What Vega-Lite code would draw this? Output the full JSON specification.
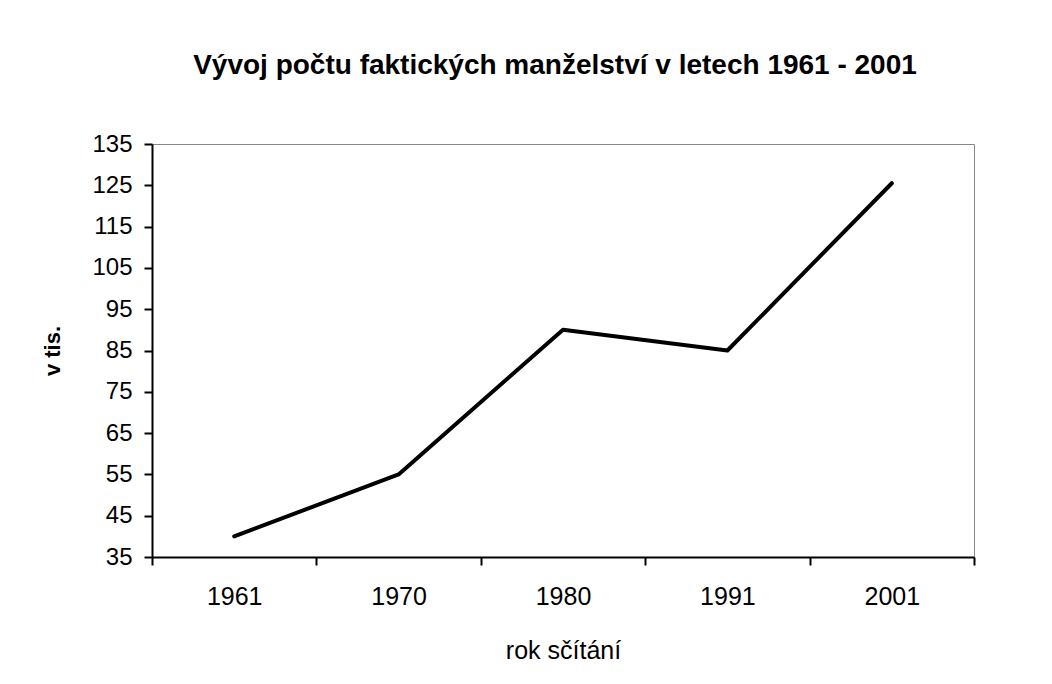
{
  "$schema": "https://vega.github.io/schema/vega-lite/v6.json",
  "autosize": {"type": "none"},
  "width": 822,
  "height": 413,
  "padding": {"left": 152, "top": 144, "right": 78, "bottom": 127},
  "background": "white",
  "title": {
    "text": "Vývoj počtu faktických manželství v letech 1961 - 2001",
    "font": "Liberation Sans",
    "fontSize": 28,
    "fontWeight": "bold",
    "color": "black",
    "anchor": "middle",
    "dx": -8,
    "offset": 52
  },
  "data": {
    "values": [
      {"rok": "1961", "pocet": 40},
      {"rok": "1970", "pocet": 55},
      {"rok": "1980", "pocet": 90},
      {"rok": "1991", "pocet": 85},
      {"rok": "2001", "pocet": 125.5}
    ]
  },
  "mark": {"type": "line", "color": "black", "strokeWidth": 4, "strokeCap": "round", "strokeJoin": "round"},
  "encoding": {
    "x": {
      "field": "rok",
      "type": "ordinal",
      "bandPosition": 0.5,
      "scale": {"type": "band", "paddingInner": 0, "paddingOuter": 0},
      "axis": {
        "title": "rok sčítání",
        "labelAngle": 0,
        "tickBand": "extent",
        "domainColor": "black",
        "domainWidth": 2,
        "tickColor": "black",
        "tickWidth": 2,
        "tickSize": 8,
        "labelPadding": 19,
        "labelFont": "Liberation Sans",
        "labelFontSize": 25,
        "labelColor": "black",
        "titleFont": "Liberation Sans",
        "titleFontSize": 25,
        "titleFontWeight": "normal",
        "titleColor": "black",
        "titlePadding": 29
      }
    },
    "y": {
      "field": "pocet",
      "type": "quantitative",
      "scale": {"domain": [35, 135], "nice": false, "zero": false},
      "axis": {
        "title": "v tis.",
        "values": [35, 45, 55, 65, 75, 85, 95, 105, 115, 125, 135],
        "grid": false,
        "domainColor": "black",
        "domainWidth": 2,
        "tickColor": "black",
        "tickWidth": 2,
        "tickSize": 8,
        "labelPadding": 12,
        "labelFont": "Liberation Sans",
        "labelFontSize": 24,
        "labelColor": "black",
        "titleFont": "Liberation Sans",
        "titleFontSize": 22,
        "titleFontWeight": "bold",
        "titleColor": "black",
        "titlePadding": 27
      }
    }
  },
  "config": {
    "view": {"stroke": "#888", "strokeWidth": 1}
  }
}
